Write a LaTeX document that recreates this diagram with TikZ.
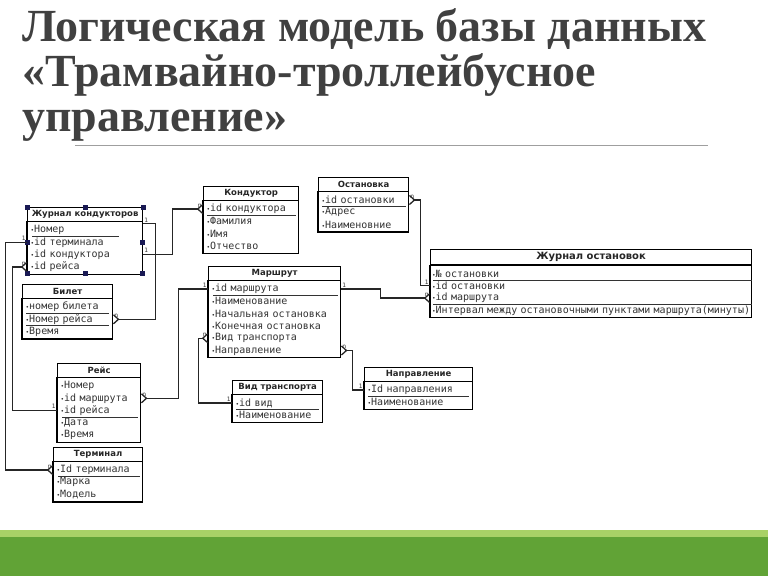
\documentclass[tikz,border=0pt]{standalone}
\usepackage{fontspec}
\setmainfont{Liberation Serif}
\setsansfont{DejaVu Sans}
\setmonofont{DejaVu Sans Mono}
\usetikzlibrary{arrows.meta, positioning, calc}
\definecolor{TitleGray}{rgb}{0.25, 0.25, 0.25}
\definecolor{InkGray}{rgb}{0.2, 0.2, 0.2}
\definecolor{HandleBlue}{rgb}{0.1, 0.1, 0.33}
\definecolor{BarGreen}{rgb}{0.38, 0.64, 0.21}
\definecolor{BarLight}{rgb}{0.66, 0.82, 0.4}
\newcommand{\bul}{{\fontsize{6}{6}\selectfont\textbullet}}

\begin{document}
\begin{tikzpicture}[
    x=1pt, y=-1pt,
    title/.style={anchor=north west, inner sep=0pt, align=left, text=TitleGray,
        font=\fontsize{46}{45}\selectfont\bfseries},
    head/.style={draw, line width=1.2pt, anchor=north west, minimum height=13.5, inner sep=0pt,
        font=\sffamily\bfseries\fontsize{8.5}{9}\selectfont, text=black!85},
    row/.style={inner xsep=3pt, inner ysep=0pt, minimum height=12.2, align=left, text=InkGray,
        font=\ttfamily\fontsize{10}{11}\selectfont, execute at begin node=\bul},
    box/.style={line width=1.2pt},
    keyline/.style={InkGray, line width=0.6pt},
    link/.style={line width=1.3pt, black!85, -{Straight Barb[reversed, length=5pt, width=9pt]}},
    lab/.style={font=\sffamily\fontsize{6}{6}\selectfont, text=InkGray, inner sep=1pt},
]
\useasboundingbox (0,0) rectangle (768,576);

% заголовок
\node[title] (title) at (22,8) {Логическая модель базы данных\\«Трамвайно-троллейбусное\\управление»};
\draw[TitleGray!50, line width=0.8pt] (75,145) -- (708,145);

% таблицы
\node[head, minimum width=115] (zhk) at (27,207) {Журнал кондукторов};
\foreach \f [count=\i] in {Номер, id терминала, id кондуктора, id рейса}
    \node[row, text width=109] (zhk-\i) at ($(zhk.south)+(0,{12.3*\i-4})$) {\f};
\draw[box] (zhk.south west) rectangle ($(zhk-4.south east)+(0,1)$);
\draw[keyline] ([xshift=5]zhk-1.south west) -- ([xshift=-24]zhk-1.south east);

\node[head, minimum width=95] (kond) at (203,186) {Кондуктор};
\foreach \f [count=\i] in {id кондуктора, Фамилия, Имя, Отчество}
    \node[row, text width=89] (kond-\i) at ($(kond.south)+(0,{12.3*\i-4})$) {\f};
\draw[box] (kond.south west) rectangle ($(kond-4.south east)+(0,1)$);
\draw[keyline] ([xshift=4]kond-1.south west) -- ([xshift=-3]kond-1.south east);

\node[head, minimum width=90] (ost) at (318,177) {Остановка};
\foreach \f [count=\i] in {id остановки, Адрес, Наименовние}
    \node[row, text width=84] (ost-\i) at ($(ost.south)+(0,{12.3*\i-4})$) {\f};
\draw[box] (ost.south west) rectangle ($(ost-3.south east)+(0,1)$);
\draw[keyline] ([xshift=4]ost-1.south west) -- ([xshift=-3]ost-1.south east);

\node[head, minimum width=321, minimum height=15, font=\sffamily\bfseries\fontsize{10}{11}\selectfont] (zho) at (430,249) {Журнал остановок};
\foreach \f [count=\i] in {№ остановки, id остановки, id маршрута, Интервал между остановочными пунктами маршрута(минуты)}
    \node[row, inner xsep=1.5pt, text width=318] (zho-\i) at ($(zho.south)+(0,{12.3*\i-4})$) {\f};
\draw[box] (zho.south west) rectangle ($(zho-4.south east)+(0,1)$);
\draw[keyline] ([xshift=3]zho-1.south west) -- (zho-1.south east);
\draw[keyline] ([xshift=3]zho-3.south west) -- (zho-3.south east);

\node[head, minimum width=132] (marsh) at (208,266) {Маршрут};
\foreach \f [count=\i] in {id маршрута, Наименование, Начальная остановка, Конечная остановка, Вид транспорта, Направление}
    \node[row, text width=126] (marsh-\i) at ($(marsh.south)+(0,{12.3*\i-4})$) {\f};
\draw[box] (marsh.south west) rectangle ($(marsh-6.south east)+(0,1)$);
\draw[keyline] ([xshift=5]marsh-1.south west) -- ([xshift=-3]marsh-1.south east);

\node[head, minimum width=90] (bil) at (22,284) {Билет};
\foreach \f [count=\i] in {номер билета, Номер рейса, Время}
    \node[row, text width=84] (bil-\i) at ($(bil.south)+(0,{12.3*\i-4})$) {\f};
\draw[box] (bil.south west) rectangle ($(bil-3.south east)+(0,1)$);
\draw[keyline] ([xshift=4]bil-1.south west) -- ([xshift=-4]bil-1.south east);
\draw[keyline] ([xshift=4]bil-2.south west) -- ([xshift=-4]bil-2.south east);

\node[head, minimum width=83] (reys) at (57,363) {Рейс};
\foreach \f [count=\i] in {Номер, id маршрута, id рейса, Дата, Время}
    \node[row, text width=77] (reys-\i) at ($(reys.south)+(0,{12.3*\i-4})$) {\f};
\draw[box] (reys.south west) rectangle ($(reys-5.south east)+(0,1)$);
\draw[keyline] ([xshift=5]reys-3.south west) -- ([xshift=-3]reys-3.south east);

\node[head, minimum width=89] (term) at (53,447) {Терминал};
\foreach \f [count=\i] in {Id терминала, Марка, Модель}
    \node[row, text width=83] (term-\i) at ($(term.south)+(0,{12.3*\i-4})$) {\f};
\draw[box] (term.south west) rectangle ($(term-3.south east)+(0,1)$);
\draw[keyline] ([xshift=5]term-1.south west) -- ([xshift=-3]term-1.south east);

\node[head, minimum width=90] (vid) at (232,380) {Вид транспорта};
\foreach \f [count=\i] in {id вид, Наименование}
    \node[row, text width=84] (vid-\i) at ($(vid.south)+(0,{12.3*\i-4})$) {\f};
\draw[box] (vid.south west) rectangle ($(vid-2.south east)+(0,1)$);
\draw[keyline] ([xshift=4]vid-1.south west) -- ([xshift=-4]vid-1.south east);

\node[head, minimum width=108] (napr) at (364,367) {Направление};
\foreach \f [count=\i] in {{ Id направления}, Наименование}
    \node[row, text width=102] (napr-\i) at ($(napr.south)+(0,{12.3*\i-4})$) {\f};
\draw[box] (napr.south west) rectangle ($(napr-2.south east)+(0,1)$);
\draw[keyline] ([xshift=4]napr-1.south west) -- ([xshift=-4]napr-1.south east);

% маркеры выделения
\foreach \p in {zhk.north west, zhk.north, zhk.north east, zhk-2.east, zhk-4.south east, zhk-4.south, zhk-4.south west, zhk-2.west}
    \fill[HandleBlue] ($(\p)+(-2.5,-2.5)$) rectangle ++(5,5);

% связи
\draw[link] (zhk-3.east) -- ++(30,0) node[lab, pos=0, above right] {1}
    |- (kond-1.west) node[lab, pos=1, above left] {n};
\draw[link] (zhk-1.north east) -- ++(13,0) node[lab, pos=0, above right] {1}
    |- (bil-2.east) node[lab, pos=1, above right] {n};
\draw[link] (zhk-2.west) -- ++(-22,0) node[lab, pos=0, above left] {1}
    |- (term-1.west) node[lab, pos=1, above left] {n};
\draw[link] (reys-3.west) -- ++(-45,0) node[lab, pos=0, above left] {1}
    |- (zhk-4.west) node[lab, pos=1, above left] {n};
\draw[link] (marsh-1.west) -- ++(-30,0) node[lab, pos=0, above left] {1}
    |- (reys-2.east) node[lab, pos=1, above right] {n};
\draw[link] (vid-1.west) -- ++(-34,0) node[lab, pos=0, above left] {1}
    |- (marsh-5.west) node[lab, pos=1, above left] {n};
\draw[link] (napr-1.west) -- ++(-12,0) node[lab, pos=0, above left] {1}
    |- (marsh-6.east) node[lab, pos=1, above right] {n};
\draw[link] (marsh-1.east) -- ++(40,0) node[lab, pos=0, above right] {1}
    |- (zho-3.west) node[lab, pos=1, above left] {n};
\draw[link] (zho-2.west) -- ++(-10,0) node[lab, pos=0, above left] {1}
    |- (ost-1.east) node[lab, pos=1, above right] {n};

% зелёная полоса
\fill[BarLight] (0,530) rectangle (768,537);
\fill[BarGreen] (0,537) rectangle (768,576);

\end{tikzpicture}
\end{document}
